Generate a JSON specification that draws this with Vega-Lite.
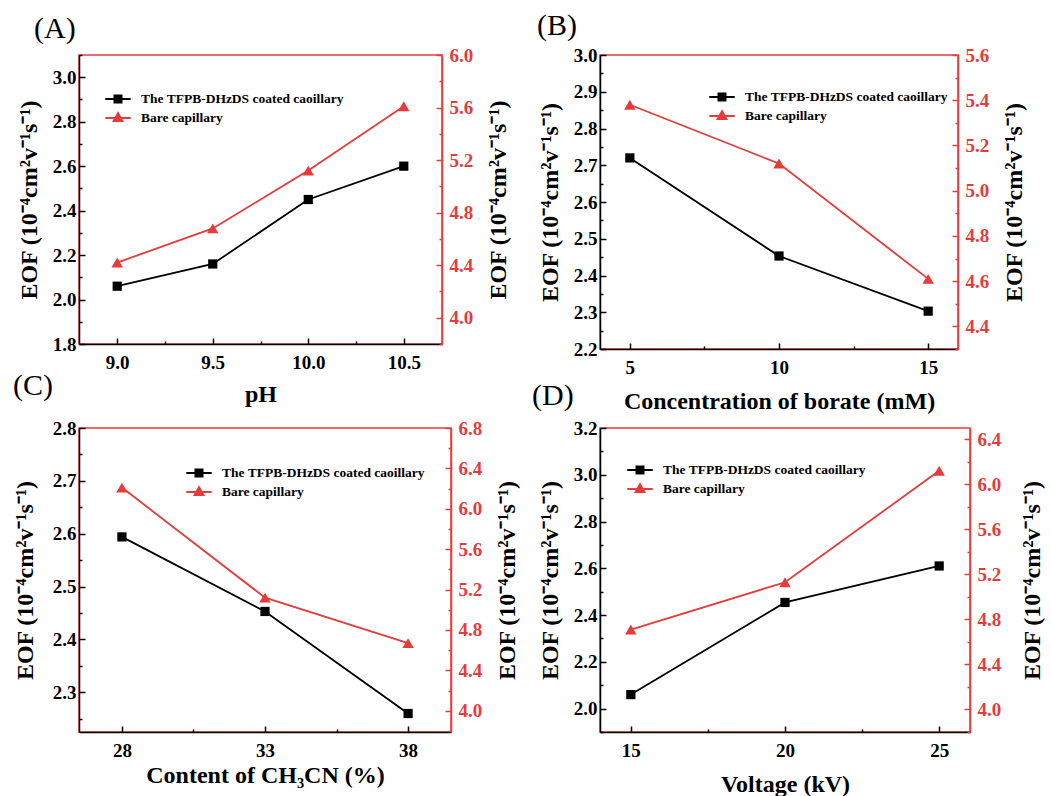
{
  "$schema": "https://vega.github.io/schema/vega-lite/v6.json",
  "background": "white",
  "padding": {"left": 12, "top": 10, "right": 5, "bottom": 0},
  "data": {"values": [
    {"panel": "A", "series": "The TFPB-DHzDS coated caoillary", "x": 9.0, "y": 2.06},
    {"panel": "A", "series": "The TFPB-DHzDS coated caoillary", "x": 9.5, "y": 2.16},
    {"panel": "A", "series": "The TFPB-DHzDS coated caoillary", "x": 10.0, "y": 2.45},
    {"panel": "A", "series": "The TFPB-DHzDS coated caoillary", "x": 10.5, "y": 2.6},
    {"panel": "A", "series": "Bare capillary", "x": 9.0, "y": 4.42},
    {"panel": "A", "series": "Bare capillary", "x": 9.5, "y": 4.68},
    {"panel": "A", "series": "Bare capillary", "x": 10.0, "y": 5.12},
    {"panel": "A", "series": "Bare capillary", "x": 10.5, "y": 5.61},
    {"panel": "B", "series": "The TFPB-DHzDS coated caoillary", "x": 5, "y": 2.72},
    {"panel": "B", "series": "The TFPB-DHzDS coated caoillary", "x": 10, "y": 2.453},
    {"panel": "B", "series": "The TFPB-DHzDS coated caoillary", "x": 15, "y": 2.303},
    {"panel": "B", "series": "Bare capillary", "x": 5, "y": 5.38},
    {"panel": "B", "series": "Bare capillary", "x": 10, "y": 5.12},
    {"panel": "B", "series": "Bare capillary", "x": 15, "y": 4.61},
    {"panel": "C", "series": "The TFPB-DHzDS coated caoillary", "x": 28, "y": 2.594},
    {"panel": "C", "series": "The TFPB-DHzDS coated caoillary", "x": 33, "y": 2.453},
    {"panel": "C", "series": "The TFPB-DHzDS coated caoillary", "x": 38, "y": 2.26},
    {"panel": "C", "series": "Bare capillary", "x": 28, "y": 6.21},
    {"panel": "C", "series": "Bare capillary", "x": 33, "y": 5.12},
    {"panel": "C", "series": "Bare capillary", "x": 38, "y": 4.67},
    {"panel": "D", "series": "The TFPB-DHzDS coated caoillary", "x": 15, "y": 2.06},
    {"panel": "D", "series": "The TFPB-DHzDS coated caoillary", "x": 20, "y": 2.454},
    {"panel": "D", "series": "The TFPB-DHzDS coated caoillary", "x": 25, "y": 2.61},
    {"panel": "D", "series": "Bare capillary", "x": 15, "y": 4.71},
    {"panel": "D", "series": "Bare capillary", "x": 20, "y": 5.13},
    {"panel": "D", "series": "Bare capillary", "x": 25, "y": 6.12}
  ]},
  "config": {
    "font": "Liberation Serif",
    "view": {"stroke": "#e63b3b", "strokeWidth": 1.5},
    "axis": {"labelFont": "Liberation Serif", "labelFontSize": 19, "labelFontWeight": "bold", "titleFont": "Liberation Serif", "titleFontSize": 24, "titleFontWeight": "bold", "grid": false, "domainColor": "#000000", "domainWidth": 1.5, "tickColor": "#000000", "tickWidth": 1.5, "labelColor": "#000000", "titleColor": "#000000", "labelFlush": false, "labelOverlap": false, "labelBound": false},
    "axisX": {"labelPadding": 15, "titleFontSize": 24},
    "axisLeft": {"labelPadding": 9, "titlePadding": 11},
    "axisRight": {"labelPadding": 13, "titlePadding": 14, "domainColor": "#e63b3b", "tickColor": "#e63b3b", "labelColor": "#e63b3b", "titleAngle": 270, "titleBaseline": "top"},
    "legend": {"labelFont": "Liberation Serif", "labelFontSize": 13.5, "labelFontWeight": "bold", "labelColor": "#000000", "labelLimit": 0, "symbolSize": 400, "rowPadding": -5, "padding": 0, "labelOffset": 12},
    "title": {"font": "Liberation Serif", "fontSize": 30, "fontWeight": "normal", "color": "#000000", "anchor": "start", "frame": "group", "baseline": "alphabetic"}
  },
  "columns": 2,
  "bounds": "flush",
  "align": "each",
  "spacing": {"row": 79, "column": 149},
  "resolve": {"scale": {"color": "independent"}},
  "concat": [
    {
      "width": 363, "height": 289,
      "title": {"text": "(A)", "dx": -45, "offset": 2},
      "transform": [{"filter": "datum.panel === 'A'"}],
      "encoding": {"x": {"field": "x", "type": "quantitative", "scale": {"domain": [8.8, 10.7], "nice": false, "zero": false},
        "axis": {"title": "pH", "titlePadding": 7, "values": [9, 9.25, 9.5, 9.75, 10, 10.25, 10.5], "format": ".1f",
          "labelExpr": "indexof([9, 9.5, 10, 10.5], datum.value) >= 0 ? datum.label : ''",
          "tickSize": {"condition": {"test": "indexof([9, 9.5, 10, 10.5], datum.value) >= 0", "value": -6}, "value": -3}}}},
      "layer": [
        {
          "transform": [{"filter": "datum.series === 'The TFPB-DHzDS coated caoillary'"}],
          "mark": {"type": "line", "strokeWidth": 1.8, "point": {"shape": "square", "size": 85, "filled": true, "opacity": 1}},
          "encoding": {
            "y": {"field": "y", "type": "quantitative", "scale": {"domain": [1.8, 3.1], "nice": false, "zero": false},
              "axis": {"orient": "left", "title": "EOF (10⁻⁴cm²v⁻¹s⁻¹)", "values": [1.8, 1.9, 2, 2.1, 2.2, 2.3, 2.4, 2.5, 2.6, 2.7, 2.8, 2.9, 3, 3.1], "format": ".1f",
                "labelExpr": "indexof([1.8, 2, 2.2, 2.4, 2.6, 2.8, 3], datum.value) >= 0 ? datum.label : ''",
                "tickSize": {"condition": {"test": "indexof([1.8, 2, 2.2, 2.4, 2.6, 2.8, 3], datum.value) >= 0", "value": -6}, "value": -3}}},
            "color": {"field": "series", "type": "nominal", "scale": {"domain": ["The TFPB-DHzDS coated caoillary", "Bare capillary"], "range": ["#000000", "#e63b3b"]},
              "legend": {"title": null, "orient": "none", "legendX": 28, "legendY": 33,
                "encode": {"symbols": {"update": {
                  "shape": {"signal": "datum.value === 'Bare capillary' ? 'M-1.27,0H1.27M0,-0.5L0.45,0.3H-0.45Z' : 'M-1.27,0H1.27M-0.36,-0.36H0.36V0.36H-0.36Z'"},
                  "fill": {"signal": "datum.value === 'Bare capillary' ? '#e63b3b' : '#000000'"},
                  "stroke": {"signal": "datum.value === 'Bare capillary' ? '#e63b3b' : '#000000'"},
                  "strokeWidth": {"value": 1.8}, "opacity": {"value": 1}, "fillOpacity": {"value": 1}, "strokeOpacity": {"value": 1}}}}}}
          }
        },
        {
          "transform": [{"filter": "datum.series === 'Bare capillary'"}],
          "mark": {"type": "line", "strokeWidth": 1.8, "point": {"shape": "triangle-up", "size": 130, "filled": true, "opacity": 1}},
          "encoding": {
            "y": {"field": "y", "type": "quantitative", "scale": {"domain": [3.8, 6.0], "nice": false, "zero": false},
              "axis": {"orient": "right", "title": "EOF (10⁻⁴cm²v⁻¹s⁻¹)", "values": [3.8, 4, 4.2, 4.4, 4.6, 4.8, 5, 5.2, 5.4, 5.6, 5.8, 6], "format": ".1f",
                "labelExpr": "indexof([4, 4.4, 4.8, 5.2, 5.6, 6], datum.value) >= 0 ? datum.label : ''",
                "tickSize": {"condition": {"test": "indexof([4, 4.4, 4.8, 5.2, 5.6, 6], datum.value) >= 0", "value": -6}, "value": -3}}},
            "color": {"field": "series", "type": "nominal", "scale": {"domain": ["The TFPB-DHzDS coated caoillary", "Bare capillary"], "range": ["#000000", "#e63b3b"]}}
          }
        }
      ],
      "resolve": {"scale": {"y": "independent"}}
    },
    {
      "width": 358, "height": 294,
      "title": {"text": "(B)", "dx": -63, "offset": 5},
      "transform": [{"filter": "datum.panel === 'B'"}],
      "encoding": {"x": {"field": "x", "type": "quantitative", "scale": {"domain": [4, 16], "nice": false, "zero": false},
        "axis": {"title": "Concentration of borate (mM)", "titlePadding": 9, "values": [5, 7.5, 10, 12.5, 15], "format": "d",
          "labelExpr": "indexof([5, 10, 15], datum.value) >= 0 ? datum.label : ''",
          "tickSize": {"condition": {"test": "indexof([5, 10, 15], datum.value) >= 0", "value": -6}, "value": -3}}}},
      "layer": [
        {
          "transform": [{"filter": "datum.series === 'The TFPB-DHzDS coated caoillary'"}],
          "mark": {"type": "line", "strokeWidth": 1.8, "point": {"shape": "square", "size": 85, "filled": true, "opacity": 1}},
          "encoding": {
            "y": {"field": "y", "type": "quantitative", "scale": {"domain": [2.2, 3.0], "nice": false, "zero": false},
              "axis": {"orient": "left", "title": "EOF (10⁻⁴cm²v⁻¹s⁻¹)", "values": [2.2, 2.25, 2.3, 2.35, 2.4, 2.45, 2.5, 2.55, 2.6, 2.65, 2.7, 2.75, 2.8, 2.85, 2.9, 2.95, 3], "format": ".1f",
                "labelExpr": "indexof([2.2, 2.3, 2.4, 2.5, 2.6, 2.7, 2.8, 2.9, 3], datum.value) >= 0 ? datum.label : ''",
                "tickSize": {"condition": {"test": "indexof([2.2, 2.3, 2.4, 2.5, 2.6, 2.7, 2.8, 2.9, 3], datum.value) >= 0", "value": -6}, "value": -3}}},
            "color": {"field": "series", "type": "nominal", "scale": {"domain": ["The TFPB-DHzDS coated caoillary", "Bare capillary"], "range": ["#000000", "#e63b3b"]},
              "legend": {"title": null, "orient": "none", "legendX": 111, "legendY": 31,
                "encode": {"symbols": {"update": {
                  "shape": {"signal": "datum.value === 'Bare capillary' ? 'M-1.27,0H1.27M0,-0.5L0.45,0.3H-0.45Z' : 'M-1.27,0H1.27M-0.36,-0.36H0.36V0.36H-0.36Z'"},
                  "fill": {"signal": "datum.value === 'Bare capillary' ? '#e63b3b' : '#000000'"},
                  "stroke": {"signal": "datum.value === 'Bare capillary' ? '#e63b3b' : '#000000'"},
                  "strokeWidth": {"value": 1.8}, "opacity": {"value": 1}, "fillOpacity": {"value": 1}, "strokeOpacity": {"value": 1}}}}}}
          }
        },
        {
          "transform": [{"filter": "datum.series === 'Bare capillary'"}],
          "mark": {"type": "line", "strokeWidth": 1.8, "point": {"shape": "triangle-up", "size": 130, "filled": true, "opacity": 1}},
          "encoding": {
            "y": {"field": "y", "type": "quantitative", "scale": {"domain": [4.3, 5.6], "nice": false, "zero": false},
              "axis": {"orient": "right", "title": "EOF (10⁻⁴cm²v⁻¹s⁻¹)", "values": [4.3, 4.4, 4.5, 4.6, 4.7, 4.8, 4.9, 5, 5.1, 5.2, 5.3, 5.4, 5.5, 5.6], "format": ".1f",
                "labelExpr": "indexof([4.4, 4.6, 4.8, 5, 5.2, 5.4, 5.6], datum.value) >= 0 ? datum.label : ''",
                "tickSize": {"condition": {"test": "indexof([4.4, 4.6, 4.8, 5, 5.2, 5.4, 5.6], datum.value) >= 0", "value": -6}, "value": -3}}},
            "color": {"field": "series", "type": "nominal", "scale": {"domain": ["The TFPB-DHzDS coated caoillary", "Bare capillary"], "range": ["#000000", "#e63b3b"]}}
          }
        }
      ],
      "resolve": {"scale": {"y": "independent"}}
    },
    {
      "width": 372, "height": 304,
      "title": {"text": "(C)", "dx": -66, "offset": 18},
      "transform": [{"filter": "datum.panel === 'C'"}],
      "encoding": {"x": {"field": "x", "type": "quantitative", "scale": {"domain": [26.5, 39.5], "nice": false, "zero": false},
        "axis": {"title": "Content of CH₃CN (%)", "titlePadding": 0, "values": [28, 30.5, 33, 35.5, 38], "format": "d",
          "labelExpr": "indexof([28, 33, 38], datum.value) >= 0 ? datum.label : ''",
          "tickSize": {"condition": {"test": "indexof([28, 33, 38], datum.value) >= 0", "value": -6}, "value": -3}}}},
      "layer": [
        {
          "transform": [{"filter": "datum.series === 'The TFPB-DHzDS coated caoillary'"}],
          "mark": {"type": "line", "strokeWidth": 1.8, "point": {"shape": "square", "size": 85, "filled": true, "opacity": 1}},
          "encoding": {
            "y": {"field": "y", "type": "quantitative", "scale": {"domain": [2.225, 2.8], "nice": false, "zero": false},
              "axis": {"orient": "left", "title": "EOF (10⁻⁴cm²v⁻¹s⁻¹)", "titlePadding": 15, "values": [2.25, 2.3, 2.35, 2.4, 2.45, 2.5, 2.55, 2.6, 2.65, 2.7, 2.75, 2.8], "format": ".1f",
                "labelExpr": "indexof([2.3, 2.4, 2.5, 2.6, 2.7, 2.8], datum.value) >= 0 ? datum.label : ''",
                "tickSize": {"condition": {"test": "indexof([2.3, 2.4, 2.5, 2.6, 2.7, 2.8], datum.value) >= 0", "value": -6}, "value": -3}}},
            "color": {"field": "series", "type": "nominal", "scale": {"domain": ["The TFPB-DHzDS coated caoillary", "Bare capillary"], "range": ["#000000", "#e63b3b"]},
              "legend": {"title": null, "orient": "none", "legendX": 109, "legendY": 34,
                "encode": {"symbols": {"update": {
                  "shape": {"signal": "datum.value === 'Bare capillary' ? 'M-1.27,0H1.27M0,-0.5L0.45,0.3H-0.45Z' : 'M-1.27,0H1.27M-0.36,-0.36H0.36V0.36H-0.36Z'"},
                  "fill": {"signal": "datum.value === 'Bare capillary' ? '#e63b3b' : '#000000'"},
                  "stroke": {"signal": "datum.value === 'Bare capillary' ? '#e63b3b' : '#000000'"},
                  "strokeWidth": {"value": 1.8}, "opacity": {"value": 1}, "fillOpacity": {"value": 1}, "strokeOpacity": {"value": 1}}}}}}
          }
        },
        {
          "transform": [{"filter": "datum.series === 'Bare capillary'"}],
          "mark": {"type": "line", "strokeWidth": 1.8, "point": {"shape": "triangle-up", "size": 130, "filled": true, "opacity": 1}},
          "encoding": {
            "y": {"field": "y", "type": "quantitative", "scale": {"domain": [3.79, 6.8], "nice": false, "zero": false},
              "axis": {"orient": "right", "title": "EOF (10⁻⁴cm²v⁻¹s⁻¹)", "values": [3.8, 4, 4.2, 4.4, 4.6, 4.8, 5, 5.2, 5.4, 5.6, 5.8, 6, 6.2, 6.4, 6.6, 6.8], "format": ".1f",
                "labelExpr": "indexof([4, 4.4, 4.8, 5.2, 5.6, 6, 6.4, 6.8], datum.value) >= 0 ? datum.label : ''",
                "tickSize": {"condition": {"test": "indexof([4, 4.4, 4.8, 5.2, 5.6, 6, 6.4, 6.8], datum.value) >= 0", "value": -6}, "value": -3}}},
            "color": {"field": "series", "type": "nominal", "scale": {"domain": ["The TFPB-DHzDS coated caoillary", "Bare capillary"], "range": ["#000000", "#e63b3b"]}}
          }
        }
      ],
      "resolve": {"scale": {"y": "independent"}}
    },
    {
      "width": 370, "height": 304,
      "title": {"text": "(D)", "dx": -68, "offset": 8},
      "transform": [{"filter": "datum.panel === 'D'"}],
      "encoding": {"x": {"field": "x", "type": "quantitative", "scale": {"domain": [14, 26], "nice": false, "zero": false},
        "axis": {"title": "Voltage (kV)", "titlePadding": 9, "values": [15, 17.5, 20, 22.5, 25], "format": "d",
          "labelExpr": "indexof([15, 20, 25], datum.value) >= 0 ? datum.label : ''",
          "tickSize": {"condition": {"test": "indexof([15, 20, 25], datum.value) >= 0", "value": -6}, "value": -3}}}},
      "layer": [
        {
          "transform": [{"filter": "datum.series === 'The TFPB-DHzDS coated caoillary'"}],
          "mark": {"type": "line", "strokeWidth": 1.8, "point": {"shape": "square", "size": 85, "filled": true, "opacity": 1}},
          "encoding": {
            "y": {"field": "y", "type": "quantitative", "scale": {"domain": [1.9, 3.2], "nice": false, "zero": false},
              "axis": {"orient": "left", "title": "EOF (10⁻⁴cm²v⁻¹s⁻¹)", "values": [1.9, 2, 2.1, 2.2, 2.3, 2.4, 2.5, 2.6, 2.7, 2.8, 2.9, 3, 3.1, 3.2], "format": ".1f",
                "labelExpr": "indexof([2, 2.2, 2.4, 2.6, 2.8, 3, 3.2], datum.value) >= 0 ? datum.label : ''",
                "tickSize": {"condition": {"test": "indexof([2, 2.2, 2.4, 2.6, 2.8, 3, 3.2], datum.value) >= 0", "value": -6}, "value": -3}}},
            "color": {"field": "series", "type": "nominal", "scale": {"domain": ["The TFPB-DHzDS coated caoillary", "Bare capillary"], "range": ["#000000", "#e63b3b"]},
              "legend": {"title": null, "orient": "none", "legendX": 29, "legendY": 31,
                "encode": {"symbols": {"update": {
                  "shape": {"signal": "datum.value === 'Bare capillary' ? 'M-1.27,0H1.27M0,-0.5L0.45,0.3H-0.45Z' : 'M-1.27,0H1.27M-0.36,-0.36H0.36V0.36H-0.36Z'"},
                  "fill": {"signal": "datum.value === 'Bare capillary' ? '#e63b3b' : '#000000'"},
                  "stroke": {"signal": "datum.value === 'Bare capillary' ? '#e63b3b' : '#000000'"},
                  "strokeWidth": {"value": 1.8}, "opacity": {"value": 1}, "fillOpacity": {"value": 1}, "strokeOpacity": {"value": 1}}}}}}
          }
        },
        {
          "transform": [{"filter": "datum.series === 'Bare capillary'"}],
          "mark": {"type": "line", "strokeWidth": 1.8, "point": {"shape": "triangle-up", "size": 130, "filled": true, "opacity": 1}},
          "encoding": {
            "y": {"field": "y", "type": "quantitative", "scale": {"domain": [3.8, 6.5], "nice": false, "zero": false},
              "axis": {"orient": "right", "title": "EOF (10⁻⁴cm²v⁻¹s⁻¹)", "titlePadding": 20, "values": [3.8, 4, 4.2, 4.4, 4.6, 4.8, 5, 5.2, 5.4, 5.6, 5.8, 6, 6.2, 6.4], "format": ".1f",
                "labelExpr": "indexof([4, 4.4, 4.8, 5.2, 5.6, 6, 6.4], datum.value) >= 0 ? datum.label : ''",
                "tickSize": {"condition": {"test": "indexof([4, 4.4, 4.8, 5.2, 5.6, 6, 6.4], datum.value) >= 0", "value": -6}, "value": -3}}},
            "color": {"field": "series", "type": "nominal", "scale": {"domain": ["The TFPB-DHzDS coated caoillary", "Bare capillary"], "range": ["#000000", "#e63b3b"]}}
          }
        }
      ],
      "resolve": {"scale": {"y": "independent"}}
    }
  ]
}
